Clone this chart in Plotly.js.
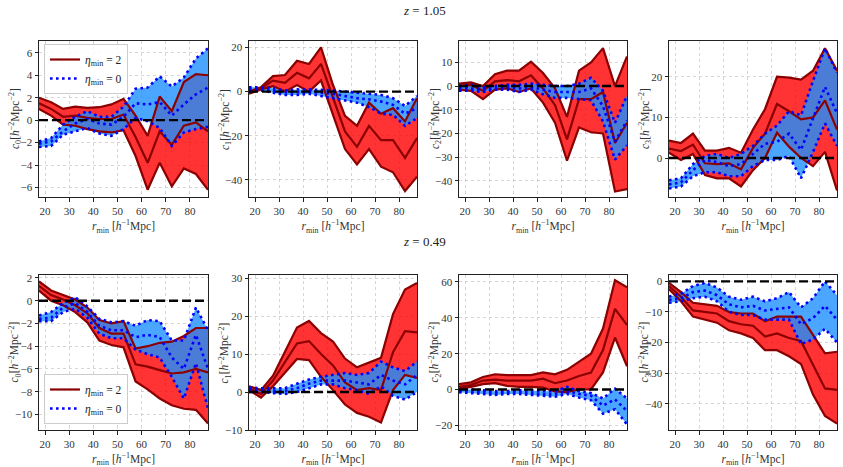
<!DOCTYPE html>
<html>
<head>
<meta charset="utf-8">
<script src="https://cdn.plot.ly/plotly-3.0.1.min.js"></script>
<style>html,body{margin:0;padding:0;background:#fff;}#plot{width:843px;height:467px;}</style>
</head>
<body>
<div id="plot"></div>
<script>
// r_min bin centres [h^-1 Mpc]
const rMin = [17.5, 22.5, 27.5, 32.5, 37.5, 42.5, 47.5, 52.5, 57.5, 62.5, 67.5, 72.5, 77.5, 82.5, 87.5];
const xTicks = [20, 30, 40, 50, 60, 70, 80];

// ---------- z = 1.05 ----------
// c0
const c0_z105_eta2_hi  = [2.0, 1.6, 1.0, 1.2, 1.1, 1.15, 1.4, 1.9, 0.4, -1.4, 2.1, 0.8, 3.4, 4.1, 4.0];
const c0_z105_eta2_mid = [1.5, 1.0, 0.3, 0.4, 0.2, 0.1, 0.1, 0.5, -1.5, -3.8, -1.0, -2.2, -0.5, -0.2, -1.0];
const c0_z105_eta2_lo  = [1.0, 0.4, -0.4, -0.5, -0.8, -1.0, -1.1, -0.9, -3.2, -6.2, -3.8, -5.9, -4.3, -4.8, -6.2];
const c0_z105_eta0_hi  = [-1.9, -1.6, -0.4, 0.3, 0.8, 0.3, 0.3, 1.2, 2.8, 2.9, 3.9, 3.0, 3.8, 5.5, 6.4];
const c0_z105_eta0_mid = [-2.1, -1.9, -1.0, -0.3, 0.1, -0.3, -0.4, 0.3, 1.5, 1.4, 1.6, 0.4, 1.4, 2.3, 2.9];
const c0_z105_eta0_lo  = [-2.4, -2.3, -1.3, -1.0, -0.7, -1.2, -1.4, -0.8, 0.2, -0.1, -0.7, -2.3, -1.1, -0.8, -0.6];
// c1
const c1_z105_eta2_hi  = [0, 2, 7, 7.5, 14, 12.5, 20, 3, -11, -15.5, -5, -10, -7.5, -13.5, -3];
const c1_z105_eta2_mid = [-0.5, 1.5, 5, 4, 8.5, 6, 12.5, -3, -18, -25, -15.5, -22, -22, -30, -21];
const c1_z105_eta2_lo  = [-1, 1, 2.5, 0, 3, 0, 5, -10, -26, -33, -26, -34, -36.5, -45, -38.5];
const c1_z105_eta0_hi  = [2, 2, 1.5, 0.5, 1, 1, 0.8, 0.5, 0, -0.5, -1, -1.5, -3, -6.5, -2];
const c1_z105_eta0_mid = [1, 1.2, 0.5, -0.3, -0.3, 0, -0.5, -1, -2, -3, -3.5, -4.5, -6, -10, -7.5];
const c1_z105_eta0_lo  = [0, 0.5, -0.5, -1.5, -1.5, -1, -2, -3, -4, -5, -7, -10, -10.5, -15.5, -12];
// c2
const c2_z105_eta2_hi  = [1, 1.5, 0, 5, 6.5, 6.5, 10.3, 5.5, -1, -13, 6.5, 10, 16, 0, 12.5];
const c2_z105_eta2_mid = [0, 0.5, -2, 2, 2.5, 2, 4.5, -1, -8, -22.5, -5.5, -5.5, -2.5, -24, -15.5];
const c2_z105_eta2_lo  = [-1.5, -2, -5.5, -1.5, -1, -2.5, -1, -7, -15.5, -31.5, -17.5, -19.5, -20, -44.5, -43.5];
const c2_z105_eta0_hi  = [0, 0.5, -0.5, 0, 0.5, 0.5, 1, 0.5, 0, 0, 1, 3.5, -2, -15.5, -4];
const c2_z105_eta0_mid = [-1, -1, -1.5, -1, -0.5, -1, -0.5, -1.5, -2.5, -2.5, -2.5, -1, -8.5, -23.5, -14.5];
const c2_z105_eta0_lo  = [-2, -2, -2.5, -1.5, -1.5, -2.5, -1.5, -3.5, -5, -5, -5.5, -6, -15, -31, -25];
// c3
const c3_z105_eta2_hi  = [4.3, 3.7, 6, 1.8, 1.8, 2.5, 1.3, 7, 12, 20, 19.8, 19.3, 21.5, 27, 21.5];
const c3_z105_eta2_mid = [2.3, 1.7, 3.3, -1.3, -1.5, -1.3, -2.8, 2.5, 6, 13.3, 11.5, 9.5, 10, 14.2, 7];
const c3_z105_eta2_lo  = [1.3, -0.5, 1, -4.2, -5, -5, -7, -3, 0, 6.2, 2.8, 0, -2, 1.5, -8];
const c3_z105_eta0_hi  = [-5.5, -5, -1.5, 0.5, 1, 0, 1, 3, 6, 8, 11.5, 10.5, 19, 27, 21];
const c3_z105_eta0_mid = [-6.5, -6, -3, -0.5, -1, -2, -1.5, 1, 3.5, 4, 6, 2, 10, 17.5, 11];
const c3_z105_eta0_lo  = [-7.5, -7, -4.5, -3.5, -3.5, -4.5, -4.5, -2, -0.5, -0.5, 0.5, -5, 1.5, 8.5, 3];

// ---------- z = 0.49 ----------
// c0
const c0_z049_eta2_hi  = [1.7, 0.9, 0.5, 0.1, -0.6, -1.7, -2.0, -1.8, -4.2, -4.0, -3.7, -3.6, -3.1, -2.4, -2.4];
const c0_z049_eta2_mid = [1.3, 0.5, 0.1, -0.4, -1.1, -2.4, -2.9, -2.9, -5.6, -5.8, -6.1, -6.4, -6.3, -6.0, -6.3];
const c0_z049_eta2_lo  = [0.9, 0.0, -0.4, -1.0, -1.9, -3.5, -3.9, -4.1, -7.1, -7.8, -8.6, -9.2, -9.5, -9.6, -10.8];
const c0_z049_eta0_hi  = [-1.3, -1.0, -0.2, 0.3, -0.5, -1.6, -1.9, -1.8, -2.2, -1.7, -1.8, -3.5, -3.5, -0.6, -2.6];
const c0_z049_eta0_mid = [-1.6, -1.5, -0.6, -0.2, -1.0, -2.2, -2.6, -2.6, -3.2, -3.0, -3.2, -5.0, -6.0, -3.0, -6.0];
const c0_z049_eta0_lo  = [-1.8, -1.8, -1.0, -0.7, -1.5, -2.9, -3.3, -3.3, -4.3, -4.7, -5.0, -6.7, -8.6, -5.5, -9.5];
// c1
const c1_z049_eta2_hi  = [1.5, 0.5, 4.3, 10.5, 17, 18.7, 15.5, 13.3, 8.8, 6.5, 7.7, 9, 20.5, 27, 28.7];
const c1_z049_eta2_mid = [1, -0.5, 3, 8, 12.8, 13.4, 10, 7, 2.5, 0.5, 1, 0.5, 10.5, 16, 15.7];
const c1_z049_eta2_lo  = [0.5, -1.5, 1.5, 5, 8.7, 8.4, 4, 0.5, -3.3, -5.5, -6.5, -8, 0.5, 4.5, 3.7];
const c1_z049_eta0_hi  = [1.2, 1, 1, 1, 2.2, 3.3, 4, 4.5, 5, 4.5, 5, 8, 6.5, 5.5, 8];
const c1_z049_eta0_mid = [0.7, 0.5, 0.3, 0.3, 1, 2.2, 3, 3, 3, 2.5, 2, 4.5, 3, 2, 4.5];
const c1_z049_eta0_lo  = [0, 0, -0.3, -0.5, 0, 1, 2, 2, 1, 0.5, -0.5, 1.5, -1, -2, 0];
// c2
const c2_z049_eta2_hi  = [3, 4, 7, 8.5, 8, 8, 8, 9.5, 8.5, 11, 15.5, 20, 34, 61, 57];
const c2_z049_eta2_mid = [1.5, 2.5, 5, 5.5, 5, 5, 5, 6, 3.5, 5, 7.5, 9.5, 22, 45, 36];
const c2_z049_eta2_lo  = [0.5, 1.5, 3, 3.5, 2, 1.5, 1.5, 1, -1, -1.5, 0, 0, 9.5, 29, 13];
const c2_z049_eta0_hi  = [0, 0, -0.5, -1, -1, -0.5, -0.5, -1, -1, 1.5, -1, -2, -5, 0.5, -5];
const c2_z049_eta0_mid = [-1, -1, -1.5, -2, -1.5, -1.5, -2, -2.5, -2.5, -1, -2.5, -3.5, -9, -5.5, -12];
const c2_z049_eta0_lo  = [-1.5, -2, -2.5, -3, -2.5, -2.5, -3, -3.5, -4, -2.5, -4.5, -6, -13.5, -11, -19.5];
// c3
const c3_z049_eta2_hi  = [-0.5, -3.5, -7, -7.5, -8, -10, -10.5, -10.5, -13, -11.5, -11.5, -11.5, -17.5, -23.5, -23];
const c3_z049_eta2_mid = [-1.5, -5, -9.5, -10, -10.5, -13, -14, -14.5, -18, -17, -18.5, -19.5, -27, -35, -35.5];
const c3_z049_eta2_lo  = [-2.5, -6.5, -11.5, -12.5, -13.5, -16, -17, -18.5, -22.5, -22.5, -24.5, -27, -37, -44, -46.5];
const c3_z049_eta0_hi  = [-5, -4, -1.5, -0.5, -2, -5, -6, -5, -6.5, -5.5, -3.5, -8.5, -5.5, 0, -4.5];
const c3_z049_eta0_mid = [-6, -5.5, -3.5, -3, -4.5, -7.5, -8.5, -8, -9.5, -9, -8.5, -14, -12, -8, -12.5];
const c3_z049_eta0_lo  = [-7, -6.5, -5.5, -5, -6.5, -10, -11, -11, -12.5, -12.5, -12.5, -20.5, -19, -15.5, -20];

const legendNames = ["<i>η</i><sub>min</sub> = 2", "<i>η</i><sub>min</sub> = 0"];
const coeffNames = ["0", "1", "2", "3"];

const panels = [
  {k: 0, e2: [c0_z105_eta2_lo, c0_z105_eta2_mid, c0_z105_eta2_hi], e0: [c0_z105_eta0_lo, c0_z105_eta0_mid, c0_z105_eta0_hi], range: [-6.85, 7.05], dtick: 2, legend: "legend"},
  {k: 1, e2: [c1_z105_eta2_lo, c1_z105_eta2_mid, c1_z105_eta2_hi], e0: [c1_z105_eta0_lo, c1_z105_eta0_mid, c1_z105_eta0_hi], range: [-47.7, 22.9], dtick: 20},
  {k: 2, e2: [c2_z105_eta2_lo, c2_z105_eta2_mid, c2_z105_eta2_hi], e0: [c2_z105_eta0_lo, c2_z105_eta0_mid, c2_z105_eta0_hi], range: [-46.8, 19.0], dtick: 10},
  {k: 3, e2: [c3_z105_eta2_lo, c3_z105_eta2_mid, c3_z105_eta2_hi], e0: [c3_z105_eta0_lo, c3_z105_eta0_mid, c3_z105_eta0_hi], range: [-9.6, 28.8], dtick: 10},
  {k: 0, e2: [c0_z049_eta2_lo, c0_z049_eta2_mid, c0_z049_eta2_hi], e0: [c0_z049_eta0_lo, c0_z049_eta0_mid, c0_z049_eta0_hi], range: [-11.37, 2.26], dtick: 2, legend: "legend2"},
  {k: 1, e2: [c1_z049_eta2_lo, c1_z049_eta2_mid, c1_z049_eta2_hi], e0: [c1_z049_eta0_lo, c1_z049_eta0_mid, c1_z049_eta0_hi], range: [-10.0, 30.8], dtick: 10},
  {k: 2, e2: [c2_z049_eta2_lo, c2_z049_eta2_mid, c2_z049_eta2_hi], e0: [c2_z049_eta0_lo, c2_z049_eta0_mid, c2_z049_eta0_hi], range: [-22.6, 63.9], dtick: 20},
  {k: 3, e2: [c3_z049_eta2_lo, c3_z049_eta2_mid, c3_z049_eta2_hi], e0: [c3_z049_eta0_lo, c3_z049_eta0_mid, c3_z049_eta0_hi], range: [-48.6, 2.1], dtick: 10}
];

const RED_FILL = "rgba(255,0,0,0.8)";
const BLUE_FILL = "rgba(30,144,255,0.8)";
const DARKRED = "#8b0000";
const BLUE = "#0000ff";
const FONT = "'Liberation Serif', 'DejaVu Serif', serif";
const TICK_SIZE = 11;
const LABEL_SIZE = 11.5;

const colPx = [[39, 208], [249, 417], [459, 627], [669, 837]];
const rowPx = [[41, 197], [275, 430]];
const colDom = colPx.map(c => [c[0] / 843, c[1] / 843]);
const rowDom = rowPx.map(r => [1 - r[1] / 467, 1 - r[0] / 467]);

const legendStyle = {xanchor: "left", bgcolor: "rgba(255,255,255,0.85)", bordercolor: "#cccccc", borderwidth: 1,
  font: {family: FONT, size: 11.5, color: "#222"}, itemwidth: 30, tracegroupgap: 0, traceorder: "normal"};

const traces = [];
const layout = {
  width: 843, height: 467,
  margin: {l: 0, r: 0, t: 0, b: 0},
  paper_bgcolor: "#fff", plot_bgcolor: "#fff",
  font: {family: FONT, size: TICK_SIZE, color: "#222"},
  shapes: [], annotations: [],
  legend: Object.assign({}, legendStyle, {x: 44/843, y: 1 - 44/467, yanchor: "top"}),
  legend2: Object.assign({}, legendStyle, {x: 44/843, y: 1 - 424/467, yanchor: "bottom"})
};

panels.forEach((p, i) => {
  const n = i + 1;
  const xa = "x" + (n === 1 ? "" : n), ya = "y" + (n === 1 ? "" : n);
  const row = i < 4 ? 0 : 1, col = i % 4;
  // red band
  traces.push({x: rMin, y: p.e2[0], xaxis: xa, yaxis: ya, mode: "lines", line: {width: 0}, showlegend: false, hoverinfo: "skip"});
  traces.push({x: rMin, y: p.e2[2], xaxis: xa, yaxis: ya, mode: "lines", line: {width: 0}, fill: "tonexty", fillcolor: RED_FILL, showlegend: false, hoverinfo: "skip"});
  // blue band
  traces.push({x: rMin, y: p.e0[0], xaxis: xa, yaxis: ya, mode: "lines", line: {width: 0}, showlegend: false, hoverinfo: "skip"});
  traces.push({x: rMin, y: p.e0[2], xaxis: xa, yaxis: ya, mode: "lines", line: {width: 0}, fill: "tonexty", fillcolor: BLUE_FILL, showlegend: false, hoverinfo: "skip"});
  // red lines
  [0, 2, 1].forEach(j => {
    const t = {x: rMin, y: p.e2[j], xaxis: xa, yaxis: ya, mode: "lines", line: {color: DARKRED, width: 2.2}, showlegend: false, name: legendNames[0]};
    if (j === 1 && p.legend) { t.showlegend = true; t.legend = p.legend; t.legendrank = 1; }
    traces.push(t);
  });
  // blue dotted lines
  [0, 2, 1].forEach(j => {
    const t = {x: rMin, y: p.e0[j], xaxis: xa, yaxis: ya, mode: "lines", line: {color: BLUE, width: 2.6, dash: "2.6px,3.4px"}, showlegend: false, name: legendNames[1]};
    if (j === 1 && p.legend) { t.showlegend = true; t.legend = p.legend; t.legendrank = 2; }
    traces.push(t);
  });

  const axStyle = {showline: true, mirror: true, linecolor: "#222", linewidth: 1, ticks: "outside", ticklen: 3.5, tickwidth: 1, tickcolor: "#222",
    showgrid: true, gridcolor: "rgba(170,170,170,0.6)", gridwidth: 0.8, griddash: "dot", zeroline: false,
    tickfont: {family: FONT, size: TICK_SIZE, color: "#333"}};
  layout["xaxis" + (n === 1 ? "" : n)] = Object.assign({}, axStyle, {
    domain: colDom[col], anchor: ya, range: [17.5, 87.5], tickvals: xTicks, ticktext: xTicks.map(String),
    title: {text: "<i>r</i><sub>min</sub> [<i>h</i><sup>−1</sup>Mpc]", font: {family: FONT, size: LABEL_SIZE, color: "#333"}, standoff: 6}
  });
  layout["yaxis" + (n === 1 ? "" : n)] = Object.assign({}, axStyle, {
    domain: rowDom[row], anchor: xa, range: p.range, dtick: p.dtick, tick0: 0
  });
  // y-axis title placed at a fixed distance from the spine, as in the reference
  layout.annotations.push({
    text: "<i>c</i><sub>" + coeffNames[p.k] + "</sub>[<i>h</i><sup>−2</sup>Mpc<sup>−2</sup>]",
    xref: "paper", yref: "paper", x: (colPx[col][0] - 24) / 843, y: (rowDom[row][0] + rowDom[row][1]) / 2,
    textangle: -90, showarrow: false, xanchor: "center", yanchor: "middle",
    font: {family: FONT, size: LABEL_SIZE, color: "#333"}
  });
  layout.shapes.push({type: "line", xref: xa + " domain", yref: ya, x0: 0, x1: 1, y0: 0, y1: 0, line: {color: "#000", width: 2.4, dash: "9px,4px"}, layer: "above"});
});

layout.annotations.push({text: "<i>z</i> = 1.05", xref: "paper", yref: "paper", x: 0.503, y: 1 - 11/467, showarrow: false, font: {family: FONT, size: 13, color: "#222"}, xanchor: "center", yanchor: "middle"});
layout.annotations.push({text: "<i>z</i> = 0.49", xref: "paper", yref: "paper", x: 0.503, y: 1 - 241/467, showarrow: false, font: {family: FONT, size: 13, color: "#222"}, xanchor: "center", yanchor: "middle"});

Plotly.newPlot("plot", traces, layout, {displayModeBar: false, staticPlot: true});
</script>
</body>
</html>
